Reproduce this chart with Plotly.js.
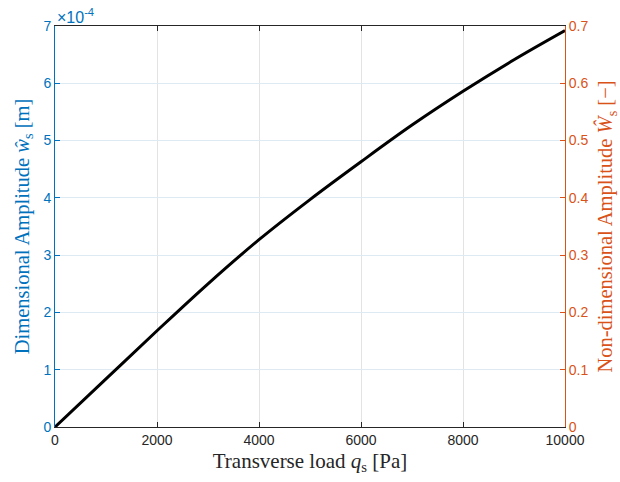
<!DOCTYPE html>
<html>
<head>
<meta charset="utf-8">
<script src="https://cdn.plot.ly/plotly-3.0.1.min.js"></script>
<style>
  html, body { margin: 0; padding: 0; background: #fff; }
  #chart { width: 620px; height: 482px; }
</style>
</head>
<body>
<div id="chart"></div>
<script>
// Transverse load q_s [Pa]
const load = [0, 1000, 2000, 3000, 4000, 5000, 6000, 7000, 8000, 9000, 10000];
// Dimensional amplitude w_s [m]
const amplitude = [0, 0.84e-4, 1.68e-4, 2.50e-4, 3.27e-4, 3.97e-4, 4.63e-4, 5.27e-4, 5.86e-4, 6.41e-4, 6.92e-4];

const xTicks = [0, 2000, 4000, 6000, 8000, 10000];
const yTicks = [0, 1e-4, 2e-4, 3e-4, 4e-4, 5e-4, 6e-4, 7e-4];
const yTickText = ['0', '1', '2', '3', '4', '5', '6', '7'];
const y2Ticks = [0, 0.1, 0.2, 0.3, 0.4, 0.5, 0.6, 0.7];
const y2TickText = ['0', '0.1', '0.2', '0.3', '0.4', '0.5', '0.6', '0.7'];

const blue = '#0072BD';
const orange = '#D95319';
const dark = '#262626';
const tickFont = { family: 'Liberation Sans, Arial, sans-serif', size: 14 };
const serif = 'Liberation Serif, DejaVu Serif, serif';

const traces = [
  {
    x: load, y: amplitude, type: 'scatter', mode: 'lines',
    line: { color: '#000000', width: 3, shape: 'spline' },
    yaxis: 'y', hoverinfo: 'skip'
  },
  {
    // anchors the right-hand (non-dimensional) scale
    x: [null], y: [null], type: 'scatter', mode: 'lines',
    yaxis: 'y2', hoverinfo: 'skip', showlegend: false
  }
];

const layout = {
  width: 620, height: 482,
  margin: { l: 55, r: 55, t: 26, b: 55 },
  paper_bgcolor: '#ffffff', plot_bgcolor: '#ffffff',
  showlegend: false,
  xaxis: {
    range: [0, 10000], tickvals: xTicks, ticktext: xTicks.map(String),
    showgrid: true, gridcolor: '#e3e3e3', gridwidth: 1,
    zeroline: false,
    showline: true, linecolor: dark, linewidth: 1, mirror: 'ticks',
    ticks: 'inside', ticklen: 5, tickcolor: dark,
    tickfont: Object.assign({ color: dark }, tickFont),
    title: {
      text: 'Transverse load <i>q</i><sub>s</sub> [Pa]',
      font: { family: serif, size: 21, color: dark }, standoff: 6
    }
  },
  yaxis: {
    range: [0, 7e-4], tickvals: yTicks, ticktext: yTickText,
    showgrid: true, gridcolor: '#dde9f3', gridwidth: 1,
    zeroline: false,
    showline: true, linecolor: blue, linewidth: 1,
    ticks: 'inside', ticklen: 5, tickcolor: blue,
    tickfont: Object.assign({ color: blue }, tickFont),
    title: {
      text: 'Dimensional Amplitude <i>ŵ</i><sub>s</sub> [m]',
      font: { family: serif, size: 20.5, color: blue }, standoff: 8
    }
  },
  yaxis2: {
    overlaying: 'y', side: 'right', anchor: 'x',
    range: [0, 0.7], tickvals: y2Ticks, ticktext: y2TickText,
    showgrid: false, zeroline: false,
    showline: true, linecolor: orange, linewidth: 1,
    ticks: 'inside', ticklen: 5, tickcolor: orange,
    tickfont: Object.assign({ color: orange }, tickFont),
    title: {
      text: 'Non-dimensional Amplitude <i>Ŵ</i><sub>s</sub> [−]',
      font: { family: serif, size: 20.5, color: orange }, standoff: 10
    }
  },
  annotations: [
    {
      xref: 'paper', yref: 'paper', x: 0, y: 1, xanchor: 'left', yanchor: 'bottom',
      yshift: -2, showarrow: false,
      text: '×10<sup>-4</sup>',
      font: { family: 'Liberation Sans, Arial, sans-serif', size: 16, color: blue }
    }
  ]
};

Plotly.newPlot('chart', traces, layout, { displayModeBar: false, staticPlot: true });
</script>
</body>
</html>
